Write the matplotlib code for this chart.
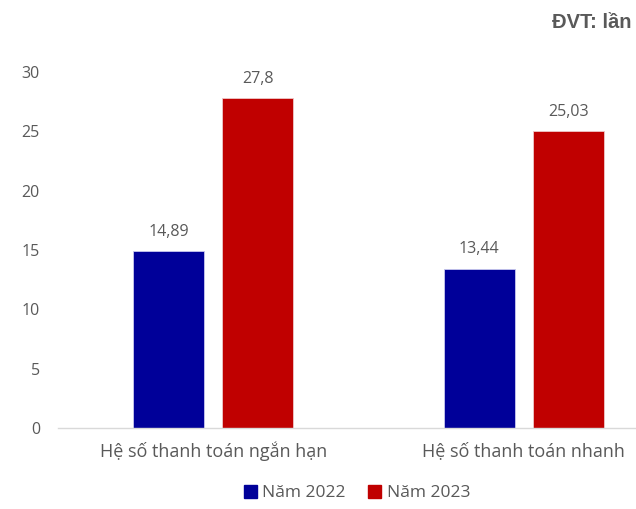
import matplotlib.pyplot as plt
from matplotlib.patches import Patch
import numpy as np

categories = ["Hệ số thanh toán ngắn hạn", "Hệ số thanh toán nhanh"]
years = ["Năm 2022", "Năm 2023"]
values_2022 = [14.89, 13.44]
values_2023 = [27.8, 25.03]
labels_2022 = ["14,89", "13,44"]
labels_2023 = ["27,8", "25,03"]

BLUE = "#000099"
RED = "#C00000"
GREY = "#595959"

plt.rcParams["font.family"] = ["Open Sans", "DejaVu Sans"]

fig = plt.figure(figsize=(6.36, 5.09), dpi=100)
ax = fig.add_axes([58 / 636, 81 / 509, 621 / 636, 356 / 509])

x = np.arange(len(categories))
width = 0.229
offset = 0.143

bars1 = ax.bar(x - offset, values_2022, width, color=BLUE, edgecolor="#c8c8ee", linewidth=0.6)
bars2 = ax.bar(x + offset, values_2023, width, color=RED, edgecolor="#eec8c8", linewidth=0.6)

for bar, lab in zip(bars1, labels_2022):
    ax.annotate(lab, (bar.get_x() + bar.get_width() / 2, bar.get_height()),
                xytext=(0, 8), textcoords="offset points", ha="center", va="bottom",
                fontsize=11.5, color=GREY)
for bar, lab in zip(bars2, labels_2023):
    ax.annotate(lab, (bar.get_x() + bar.get_width() / 2, bar.get_height()),
                xytext=(0, 8), textcoords="offset points", ha="center", va="bottom",
                fontsize=11.5, color=GREY)

ax.set_xlim(-0.5, 1.5)
ax.set_ylim(0, 30)
ax.set_yticks(range(0, 31, 5))
ax.set_xticks(x)
ax.set_xticklabels(categories)
ax.tick_params(axis="both", length=0, labelsize=11.5, labelcolor=GREY)
ax.tick_params(axis="y", pad=13)
ax.tick_params(axis="x", pad=10, labelsize=13)

for side in ["top", "right", "left"]:
    ax.spines[side].set_visible(False)
ax.spines["bottom"].set_color("#d9d9d9")
ax.spines["bottom"].set_linewidth(1)

handles = [Patch(color=BLUE), Patch(color=RED)]
fig.legend(handles, years, loc="center", bbox_to_anchor=(357 / 636, 1 - 493 / 509),
           ncol=2, frameon=False, fontsize=12.5, labelcolor=GREY,
           handlelength=0.75, handleheight=0.75, handletextpad=0.3, columnspacing=1.3)

fig.text(632 / 636, 1 - 22 / 509, "ĐVT: lần", ha="right", va="center",
         fontsize=14.5, fontweight="bold", color=GREY,
         family=["Liberation Sans", "DejaVu Sans"])

fig.savefig("out.png", dpi=100)
